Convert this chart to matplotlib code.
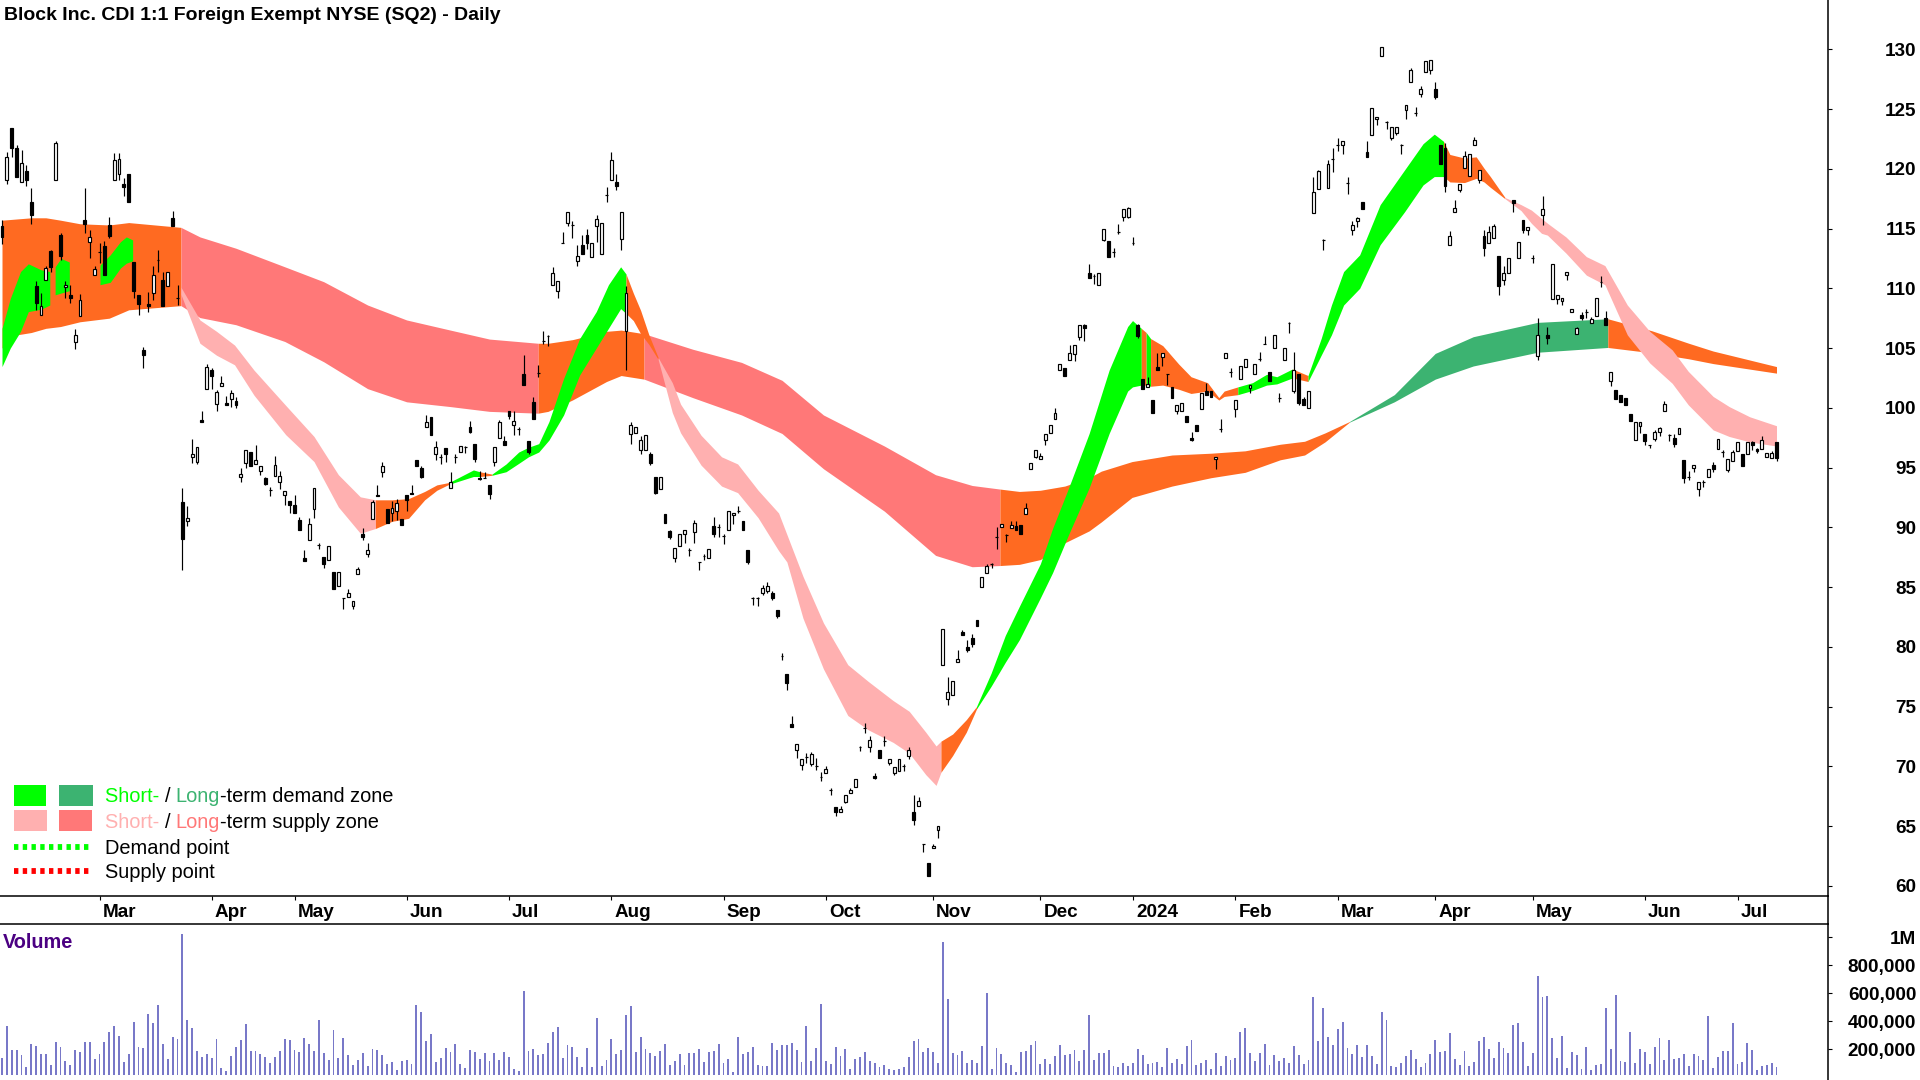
import matplotlib
matplotlib.use("Agg")
import matplotlib.pyplot as plt
from matplotlib.lines import Line2D
from matplotlib.patches import Rectangle
from matplotlib.transforms import ScaledTranslation
import numpy as np

plt.rcParams["font.family"] = ["Liberation Sans", "DejaVu Sans"]

HIGHS = [
    115.7,121.4,123.4,122.0,121.6,120.3,118.4,110.6,109.6,111.9,
    113.2,122.3,114.6,110.6,110.3,106.6,109.5,118.4,114.9,111.9,
    113.8,114,116,121.3,121.3,119.2,119.6,112.2,109.4,105.1,
    109.7,111.9,113.2,111.4,111.4,116.5,110.3,93.3,91.8,97.4,
    96.7,99.7,103.7,103.3,101.5,102.7,101,101.5,100.9,95,
    96.5,96.3,96.9,95.1,94.2,93.4,96,94.7,93,92.2,
    92.7,90.9,88.1,90.8,93.3,88.7,87.5,88.4,86.3,86.3,
    84.1,84.8,83.8,86.7,89.9,88.7,92.3,93.5,95.5,91.5,
    92.2,92.4,90.7,92.7,93.5,95.6,95.1,99.4,99.2,97.2,
    96.1,96.6,94.6,96.1,96.8,96.8,98.9,97,94.7,94.6,
    93.5,96.7,99,97.6,99.7,99.7,98.4,104.4,97.2,100.9,
    103.6,106.4,106.1,111.8,110.6,114.7,116.4,115.6,113.6,114.5,
    115,113.8,116.1,115.5,118.5,121.4,119.6,116.4,110.2,98.8,
    98.4,97.6,97.75,96.3,94.2,94.2,91.1,89.8,88.3,89.4,
    89.8,88.3,90.6,87.1,87.8,88.2,90.9,90.3,89.4,91.4,
    91.2,91.8,90.5,88.1,84.2,84.2,85.2,85.4,84.65,83.1,
    79.5,77.7,74.2,71.9,70.6,71.1,71.2,70.7,69.5,70,
    68.2,66.6,66.7,67.6,68.2,68.9,71.7,73.6,72.5,69.4,
    71.4,72.5,70.6,69.9,70.6,70.2,71.6,67.6,67.4,63.5,
    61.9,63.5,65,81.5,77.5,77.1,79.7,81.4,80.6,81.1,
    82.25,85.8,86.9,87,90,90.3,89.4,90.5,90.5,90.2,
    92,95.4,96.45,96.2,97.8,98.6,100,103.7,103.3,105.25,
    105.25,106.9,107,112.05,111.2,111.25,115,113.96,113.4,115.4,
    116.6,116.8,114.3,107,102.4,102.6,100.65,104.55,104.55,102.85,
    101.75,100.25,100.4,99.3,98,98.6,101.2,102.1,101.4,95.9,
    99.1,104.55,103.3,100.65,103.5,104.1,101.9,103.65,104.65,106,
    103,106.1,101.2,105,107.2,104.7,102.8,100.9,101.4,119.3,
    119.9,114.1,120.7,121.7,122.6,122.3,119.3,115.6,116,117.2,
    122.3,125.1,124.3,130.2,124,123.5,123.5,122.1,125.3,128.4,
    125.2,126.9,129,129.1,127.3,122,122.2,114.8,117.4,118.7,
    121.5,121.2,122.7,119.9,114.9,115.2,115.4,112.7,111.9,112.5,
    117.4,113.9,115.7,115.1,112.8,107.5,117.7,106.8,112,109.4,
    109.2,111.4,108.3,106.8,108,108.3,107.6,109.2,111,108.1,
    103,101.5,101.1,100.85,99.5,98.8,98.8,97.8,96.9,98.15,
    98.4,100.6,97.8,97.8,98.3,95.6,94.7,95.2,93.8,94,
    94.9,95.45,97.4,96.45,95.7,96.45,97.15,96.1,97.15,97.2,
    96.65,97.6,96.2,96.35,97.15,
]
BODY_TOPS = [
    115.2,121,123.4,121.7,120.5,119.8,117.2,110.2,108.5,111.7,
    113.1,122.2,114.5,110.3,109.4,106.1,109,115.7,114.3,111.6,
    113,113.5,115.3,120.7,120.8,118.7,119.6,112.2,109.4,104.8,
    108.7,111.1,112.4,110.7,111.4,115.9,109.2,92.1,90.8,96.1,
    96.7,99,103.4,103.2,101.3,102.1,100.4,101.2,100.6,94.5,
    96.5,96.3,95.6,95.1,94.1,93.1,95.2,94.3,93,92.2,
    91.9,90.6,87.4,90.3,93.3,88.5,87.5,88.4,86.3,86.3,
    84.1,84.5,83.8,86.5,89.4,88.1,92.1,92.7,95.1,91.5,
    91.6,92,90.7,92.7,92.9,95.6,95,98.8,99.2,96.7,
    95.9,96.6,93.8,95.9,96.8,96.7,98.4,97,94.1,94.1,
    93.5,96.7,98.8,97.2,99.7,98.9,98.2,102.8,97.2,100.5,
    102.9,105.6,106,111.3,110.6,113.8,116.4,115.3,112.7,113.6,
    114.5,113.8,115.8,115.5,117.8,120.7,118.9,116.4,109.6,98.6,
    98.4,97.3,97.75,96.1,94.2,94.2,91.1,89.7,88.3,89.4,
    89.8,88.1,90.4,87.1,87.6,88.2,90.1,90,89.3,91.4,
    91.2,91.4,90.5,88.1,84.1,84.1,84.9,85.1,84.5,83.1,
    79.2,77.7,73.5,71.9,70.6,70.8,71,70,69.1,69.8,
    68,66.6,66.4,67.6,68,68.9,71.6,73.2,72.2,69.2,
    71.4,72.1,70.6,69.9,70.6,70,71.4,66.2,67.1,63.5,
    61.9,63.3,65,81.5,76.2,77.1,79,81.2,80,80.7,
    82.25,85.8,86.75,86.9,89.2,90.3,89.35,90.2,90.1,90.2,
    91.6,95.4,96.45,96,97.8,98.6,99.55,103.7,103.3,104.55,
    105.25,106.9,106.9,111.3,111,111.25,114.94,113.96,113,114.7,
    116.6,116.7,113.75,106.95,102.4,102,100.65,103.4,104.55,102.85,
    101.75,100.25,100.4,99.3,97.5,98.6,101.2,101.4,101.4,95.9,
    98.2,104.55,103,100.65,103.5,104.1,101.9,103.65,104.1,105.3,
    103,106.1,100.85,105,107.1,103.2,102.8,100.7,101.4,118.1,
    119.8,114,120.4,120.8,122,122.3,118.8,115.3,115.9,117.2,
    121.4,125.1,124.3,130.2,123.9,123.5,123.5,122,125.3,128.3,
    124.7,126.7,129,129.1,126.7,122,121.7,114.4,116.7,118.7,
    121.1,121.2,122.4,119.9,114.4,114.7,115.2,112.7,111.3,112.5,
    117.4,113.9,115.7,115.1,112.5,106.1,116.6,106.1,112,109.4,
    109.2,111.4,108.3,106.65,107.8,108,107.4,109.2,110.5,107.55,
    103,101.5,101.1,100.85,99.5,98.8,98.8,97.8,96.85,98,
    98.3,100.3,97.7,97.45,98.3,95.6,94.25,95.2,93.8,93.8,
    94.9,95.2,97.4,96.3,95.7,96.3,97.15,96.1,97.15,97.15,
    96.55,97.3,96.2,96.2,97.15,
]
BODY_BOTS = [
    114.3,119.1,121.7,119.3,118.9,119.1,116.1,108.8,107.8,110.7,
    111.8,119.1,112.7,110.1,109.2,105.5,107.7,115.4,113.9,111.1,
    113,111.1,114.4,119.1,119.6,118.5,117.2,109.8,108.7,104.4,
    108.5,109.6,112.4,108.5,110.2,115.2,109.2,89,90.5,95.9,
    95.5,98.8,101.6,102.7,100.3,101.8,100.2,100.7,100.2,94.2,
    95.4,95.1,95.3,94.7,93.6,93.1,94.3,93.8,92.7,91.9,
    91.2,89.8,87.2,88.9,91.5,88.5,86.9,87.3,84.8,85.1,
    84.1,84.2,83.4,86.1,89.2,87.8,90.7,92.6,94.6,90.4,
    91.2,91.4,90.2,92.3,92.8,95.1,94.2,98.4,97.7,96.1,
    95.9,96.1,93.3,95.9,96.3,96.7,98,95.7,94,94.1,
    92.8,95.5,97.5,96.9,99.3,98.6,98.2,101.9,96.3,99.1,
    102.9,105.6,106,110.3,109.8,113.8,115.5,115.3,112.3,112.9,
    113.8,112.6,115.2,112.9,117.8,119.1,118.6,114.1,106.4,97.8,
    97.9,96.5,96.5,95.4,92.9,93.2,90.4,89.2,87.4,88.4,
    89.4,88.1,89.6,87.1,87.6,87.4,89.4,90,89.3,89.8,
    91,91.4,89.8,87.1,84.1,84.1,84.5,84.7,84.1,82.6,
    79.2,77,73.3,71.4,70.1,70.8,70.2,70,69.1,69.4,
    68,66.2,66.2,67,67.8,68.3,71.6,73.2,71.6,69,
    70.7,72.1,70.3,69.4,69.6,70,70.9,65.5,66.7,63.5,
    60.8,63.2,64.7,78.5,75.6,76,78.7,81,79.7,80.2,
    81.75,85,86.2,86.9,89.2,90,89.35,89.9,89.75,89.4,
    91.1,94.9,95.9,95.75,97.3,97.85,99.1,103.2,102.7,104,
    104.5,105.95,106.65,110.9,111,110.25,114,112.64,113,114.7,
    116,116,113.75,106,101.6,101.7,99.55,103.2,104.25,102.85,
    100.85,99.7,99.7,98.85,97.3,98.1,99.9,101.1,100.9,95.7,
    98.2,104.2,103,99.9,102.4,103.4,101.65,102.8,104.1,105.3,
    102.25,105,100.85,104,107.1,101.4,100.4,100.2,100,116.3,
    118.3,114,118.4,120.8,122,122,118.8,114.9,115.6,116.6,
    121,122.8,124.2,129.4,123.9,122.6,123,122,124.9,127.3,
    124.7,126.3,128.1,128.3,126,120.4,118.6,113.6,116.4,118.2,
    120.1,119.4,122,119.1,113.4,113.8,114.2,110.2,110.7,111.3,
    117.1,112.5,114.9,114.9,112.5,104.3,116.1,105.8,109.1,109.1,
    108.9,111.1,108,106.2,107.5,108,107.1,107.7,110.5,106.9,
    102.25,100.75,100.45,100.25,98.9,97.3,98.5,97.2,96.85,97.4,
    98,99.75,97.7,97,97.8,94.1,94.25,95,93.2,93.8,
    94.25,94.9,96.55,96.3,94.8,95.55,96.4,95.1,96.1,96.9,
    96.4,96.55,95.85,95.8,95.8,
]
LOWS = [
    113.7,118.7,121,119.3,118.9,118.6,115.4,108.2,107.8,110.7,
    111.4,119.1,112.4,109.2,108.8,104.9,107.7,114.6,112.5,111.1,
    112.1,111.1,114.2,119.1,119.1,117.7,117.2,109.2,107.8,103.3,
    108,109,111.4,108.5,110.2,115.2,108.6,86.4,90.1,95.4,
    95.3,98.8,101.6,101.6,99.7,101.8,100.2,100.1,100,93.8,
    95,95.1,95.3,94.4,93.5,92.6,94.3,93.2,91.9,91.2,
    91.2,89.8,87.2,88.9,90.8,88.2,86.6,87.3,84.8,85.1,
    83.2,84.2,83.2,86.1,88.9,87.5,90.7,92.6,94.2,90.4,
    90.5,90.6,90.2,91.4,92.8,95.1,94.1,98.4,97.7,95.6,
    95.3,95.5,93.3,95.4,96.3,96.2,97.9,95.5,94,94.1,
    92.4,95.1,97.5,96.9,99.1,97.7,97.7,101.9,96.1,99.1,
    102.6,105.3,105.2,110.3,109.2,113.8,115.2,114.2,111.9,112.9,
    113.3,112.6,113.9,112.9,117.2,119.1,118.2,113.2,103.2,97,
    97.9,96.1,96.5,95.2,92.8,93.2,90.4,89.05,87.1,88.4,
    88.7,87.6,88.7,86.4,87.3,87.4,89.2,89.2,88.6,89.8,
    90.3,91.2,89.8,86.9,83.5,83.4,84.3,84.5,83.95,82.4,
    78.9,76.4,73.3,70.7,69.7,70.3,70,69.7,68.8,69.4,
    67.6,65.8,66.2,66.9,67.8,68.3,71.3,72.8,71.2,68.9,
    70.7,71.7,70.1,69.3,69.6,69.6,70.6,65.05,66.7,62.8,
    60.8,63.2,64,78.5,75.1,76,78.7,81,79.55,80,
    81.75,85,86.2,86.6,88.2,90,88.8,89.9,89.75,89.4,
    91.1,94.9,95.8,95.75,96.9,97.85,99.1,103.2,102.7,104,
    103.9,105.7,105.6,110.9,110.35,110.25,114,112.64,112.65,114.55,
    115.65,115.9,113.6,105.8,101.6,101.7,99.55,103.2,103.5,101.9,
    100.85,99.45,99.7,98.85,97.2,98.1,99.9,101.1,100.9,94.9,
    97.95,104.2,102.6,99.25,102.4,103.4,101.2,102.8,103.9,105.3,
    102.25,105,100.5,104,106.3,101.2,100.2,100.2,100,116.3,
    118.3,113.2,118.4,119.7,121.5,121.2,117.9,114.5,115.1,116.6,
    121,122.8,123.7,129.4,123.3,122.4,122.8,121.2,124.2,127.3,
    124.4,126,128.1,127.9,125.85,120.4,118.1,113.6,116.4,118.1,
    120.1,119.4,122,118.8,112.7,113.8,114.2,109.4,110.3,111.3,
    116.4,112.5,114.6,114.5,112.1,104,115.3,105.3,109.1,108.7,
    108.6,110.7,108,106.2,107.35,107.5,107.1,107.7,110.1,106.9,
    101.85,100.75,100.45,100.25,98.9,97.3,97.85,96.85,96.6,97.2,
    97.6,99.75,97.2,96.75,97.8,93.7,94,94.6,92.65,93.4,
    94.25,94.65,96.55,95.9,94.65,95.55,96.4,95.1,96.1,96.45,
    96.2,96.55,95.85,95.8,95.55,
]
# b = close below open (filled), w = close above open (hollow)
CANDLE_DIR = (
    "bwbbwbbbww" "bwbwbwwbww" "bbbwwbbbbb" "bwbbwbbbww" "wbwbwwbwbw"
    "wbwwbbwwwb" "bbbwwbbwbw" "bwwwbwwbwb" "wwbbbbbwbw" "bbwbwbbbbb"
    "bwwbbwbbbb" "bbbwwbwbwb" "bwwwbwbwww" "wwwbbwbbww" "wbwbbwbbbw"
    "wbbbbbwwbb" "bbbwwbwbbw" "bbwwwwbbwb" "bbwwwbwbwb" "bwwwwwwbbb"
    "bwwbbwbwbb" "wwwwwwwwbw" "wwbbbwwbbb" "wwbbbwbbwb" "bwwbbbwbbw"
    "bwbwwwwwbb" "bwbwbwbbww" "wbwbbwbwwb" "bwwwbwwbww" "bwwwbbbwww"
    "wwwwbwwbww" "bwbwbwwbww" "wwwwbbwwbb" "wbbbbwwbbw" "wwbbwbbwwb"
    "wbwbwwwbwb" "bwwwb"
)
VOLUME_K = [
    135,366,195,195,159,76,238,224,166,166,88,252,216,116,88,195,181,252,252,131,
    166,252,324,366,295,109,166,395,216,209,452,388,516,238,131,288,273,1024,409,352,
    188,145,166,138,273,66,45,152,216,266,381,188,188,166,145,102,145,188,273,266,
    195,181,281,238,188,409,174,124,338,138,281,159,88,124,174,81,202,195,159,95,
    109,52,116,124,95,516,466,259,309,109,138,209,181,238,95,66,195,181,131,174,
    116,174,124,
    181,145,59,45,616,188,202,159,166,245,323,359,138,231,216,145,73,209,73,423,
    81,123,273,166,195,445,509,181,288,202,173,152,188,238,88,116,166,88,173,173,
    202,109,181,188,238,102,131,38,288,166,181,216,88,81,81,245,195,231,231,245,
    195,109,366,116,209,523,116,95,216,152,202,59,131,145,181,116,102,73,88,59,
    52,59,73,145,259,273,181,209,181,102,966,559,173,159,188,102,123,102,223,602,
    59,209,
    166,102,88,38,181,188,231,259,95,131,95,152,231,159,166,195,116,195,445,123,
    173,173,195,81,73,102,81,102,202,159,95,102,109,73,209,102,131,95,223,266,
    88,102,123,59,173,81,152,123,138,323,352,173,116,173,238,88,159,116,138,102,
    223,159,95,123,573,259,495,288,231,345,395,209,166,231,145,231,152,95,466,409,
    81,73,102,152,195,131,73,102,166,266,181,188,316,131,88,188,81,109,259,288,
    202,138,252,209,173,
    373,388,252,80,173,723,573,580,280,138,295,66,180,159,59,216,52,88,95,495,
    202,588,116,109,323,102,202,180,95,216,280,123,266,130,138,166,80,166,152,123,
    438,66,145,188,188,388,95,109,245,195,52,80,88,102,73,
]
VOL_FLOOR_K = 16

LONG_X = [0,3,6,9,12,16,22,26,36.7,40.6,48,58,66,75,83,92,100,110,112,117,124,127,131.7,141.7,151.7,160,168.5,181,191.5,199,204.7,208.7,213,218,223,225.5,231.8,240,248,255,262.2,267.2,271.4,276.4,285.6,294,301.8,315,329.4,338.4,346,351,364]
LONG_UP = [115.7,115.8,115.9,115.9,115.7,115.4,115.3,115.5,115.1,114.3,113.35,111.8,110.55,108.6,107.35,106.5,105.75,105.4,105.4,105.7,106.4,106.5,106.2,104.9,103.8,102.3,99.4,96.8,94.4,93.5,93.2,93,93.1,93.45,94.15,94.7,95.5,96.05,96.2,96.4,96.95,97.2,97.9,98.85,101.1,104.55,105.95,107.15,107.45,106.45,105.4,104.75,103.45]
LONG_LO = [105,106.1,106.3,106.65,106.8,107.2,107.5,108.2,108.55,107.55,106.95,105.55,103.85,101.6,100.5,100.1,99.7,99.55,99.7,100.65,102.2,102.7,102.4,100.85,99.4,97.85,94.9,91.35,87.65,86.7,86.8,86.9,87.3,88.7,89.7,90.45,92.5,93.45,94.15,94.6,95.65,96.05,97.15,98.8,100.5,102.4,103.5,104.65,105.05,104.6,104.1,103.7,102.9]
LONG_ZONES = [(0, 36.7, "mixed"), (36.7, 110, "supply"), (110, 131.7, "mixed"), (131.7, 204.7, "supply"),
              (204.7, 276.4, "mixed"), (276.4, 329.4, "demand"), (329.4, 364, "mixed")]

SHORT_X = [0,1.7,3.8,5.4,8,9.8,10.9,12.1,13.8,20.1,22.2,24.3,25.5,26.8,36.7,40.6,44,47.7,51.7,58.2,64,69,73.5,76.6,80,83.4,86.7,89.2,91.7,96.7,98,100.5,103.4,106,108,110.1,112.2,115.2,118.5,121.9,124.4,126.9,128,129.5,131,132.7,134.6,137.5,139.2,143.4,147.6,150.9,155.1,159.3,161,164.3,168.5,173.5,177.7,182.8,186.1,189.5,191.6,192.6,195,197.8,199.9,202.9,205.8,208.7,213,215.5,218.8,223,227.1,230.9,231.9,233.7,234.7,235.6,238.1,241.4,243.9,247.3,249.6,250.7,253.5,256.5,259.4,261.5,264.7,267.9,270.6,272.7,275.2,278.5,282.7,287.7,291.5,293.8,295.7,297,300,302.4,304,305.3,308.3,311.6,313.7,315.8,317,320.8,325,328.8,333.4,338,342.6,345.9,351,354.3,358.5,364]
SHORT_UP = [106.65,109.15,111.4,112.05,111.55,111.4,111.8,112.5,112.2,111.95,112.8,113.9,114.3,114.05,110.1,107.35,106.4,105.25,103.15,100.2,97.6,94.4,92.55,92.3,92.3,92.4,93,93.55,93.75,94.8,94.65,94.45,95.3,96.3,96.7,97,98.85,102.45,105.8,108.05,110.3,111.8,111.2,109.6,108.15,106.1,104.2,102.1,100.3,97.7,95.9,95.3,93.1,91.2,89.4,85.9,82,78.5,77.1,75.5,74.6,72.85,71.7,72.1,72.7,73.9,75,77.8,80.95,83.4,86.95,89.9,93.3,97.85,103.15,106.8,107.3,106.65,106.3,105.8,105.2,103.65,102.6,102.1,100.85,101.4,101.75,102.1,102.8,102.6,103.25,102.7,105.8,108.6,111.4,112.8,117,119.9,122.1,122.9,122.3,121.2,120.9,121,120.05,119.35,117.6,117,116.55,115.85,115.45,114.3,112.65,111.9,108.6,106.4,104.85,103.05,100.95,100.1,99.25,98.5]
SHORT_LO = [103.45,105,106.4,108.05,108.25,108.6,109.45,109.6,109.8,110.3,110.5,111.7,112.1,112.3,109.5,105.4,104.4,103.6,101.05,97.75,95.5,91.7,89.5,89.9,90.5,90.75,92.3,93.1,93.6,94.25,94.25,94.35,94.65,95.35,95.9,96.3,97.3,99.4,102.75,105,106.65,108.3,107.9,107.3,106.2,105.3,104.05,99.6,97.9,95.2,93.45,92.9,90.8,88.05,87.1,82.4,78.15,74.25,73.05,72,71.1,69.3,68.4,69.5,70.9,72.85,74.8,76.7,78.7,80.6,84.1,86.2,89.4,93.3,97.85,101.4,101.75,101.9,101.9,101.8,101.9,101.55,101.2,101.4,100.65,100.95,101.1,101.45,101.9,102,102.5,102.2,104.4,106.1,108.6,110,113.65,116.4,118.65,119.35,119.35,118.9,118.85,119.2,118.9,118.45,117.5,116.5,115.45,114.6,114.45,112.95,111.1,110.3,106.1,103.75,102.05,100.25,98.15,97.6,97.15,96.8]
SHORT_ZONES = [(0, 9.8, "demand"), (10.9, 13.8, "demand"), (20.1, 26.8, "demand"), (36.7, 76.6, "supply"),
               (76.6, 91.7, "mixed"), (91.7, 98, "demand"), (98, 100.5, "mixed"), (100.5, 128, "demand"),
               (128, 134.6, "mixed"), (134.6, 192.6, "supply"), (192.6, 199.9, "mixed"), (199.9, 233.7, "demand"),
               (233.7, 234.7, "mixed"), (234.7, 235.6, "demand"), (235.6, 253.5, "mixed"), (253.5, 264.7, "demand"),
               (264.7, 267.9, "mixed"), (267.9, 295.7, "demand"), (295.7, 308.3, "mixed"), (308.3, 364, "supply")]

MONTH_POS = [20, 43, 60, 83, 104, 125, 148, 169, 191, 213, 232, 253, 274, 294, 314, 337, 356]
MONTH_LABELS = ["Mar", "Apr", "May", "Jun", "Jul", "Aug", "Sep", "Oct", "Nov", "Dec", "2024",
                "Feb", "Mar", "Apr", "May", "Jun", "Jul"]
PRICE_TICKS = [60, 65, 70, 75, 80, 85, 90, 95, 100, 105, 110, 115, 120, 125, 130]
VOL_TICKS = [200, 400, 600, 800, 1000]
VOL_LABELS = ["200,000", "400,000", "600,000", "800,000", "1M"]

LONG_COLORS = {"mixed": "#FF6A21", "supply": "#FF7878", "demand": "#3CB371"}
SHORT_COLORS = {"mixed": "#FF6A21", "supply": "#FFB0B0", "demand": "#00FF00"}
VOL_COLOR = "#7878C8"
W, H = 1920, 1080


def fig_rect(x0, y0, x1, y1):
    return [x0 / W, 1 - y1 / H, (x1 - x0) / W, (y1 - y0) / H]


def put_zones(ax, xs, ups, los, zones, colors, z):
    xs, ups, los = np.array(xs), np.array(ups), np.array(los)
    for start, end, kind in zones:
        m = (xs >= start) & (xs <= end)
        ax.fill_between(xs[m], los[m], ups[m], color=colors[kind], lw=0, zorder=z)


def legend_line(fig, x, y, parts):
    # coloured words sit one after another, so measure each as it goes down
    rend = fig.canvas.get_renderer()
    for txt, col in parts:
        t = fig.text(x / W, 1 - y / H, txt, color=col, fontsize=14.4, va="center", ha="left")
        x += t.get_window_extent(rend).width


fig = plt.figure(figsize=(W / 100, H / 100), dpi=100, facecolor="white")
ax = fig.add_axes(fig_rect(0, 0, 1828, 896))
vax = fig.add_axes(fig_rect(0, 924, 1828, 1080))

xlim = (-2 / 4.875, 1826 / 4.875)
ax.set_xlim(xlim)
ax.set_ylim(130 - 846.7 / 11.95, 130 + 49.3 / 11.95)
vax.set_xlim(xlim)
vax.set_ylim(-19.3, 1092.9)

put_zones(ax, LONG_X, LONG_UP, LONG_LO, LONG_ZONES, LONG_COLORS, 1)
put_zones(ax, SHORT_X, SHORT_UP, SHORT_LO, SHORT_ZONES, SHORT_COLORS, 2)

idx = np.arange(len(HIGHS))
tops, bots = np.array(BODY_TOPS), np.array(BODY_BOTS)
faces = ["black" if d == "b" else "white" for d in CANDLE_DIR]
ax.vlines(idx, LOWS, HIGHS, color="black", lw=0.85, zorder=3)
ax.bar(idx, tops - bots, bottom=bots, width=0.6, color=faces, edgecolor="black", lw=0.85, zorder=4)

vol = np.array(VOLUME_K)
vax.bar(np.arange(len(vol)), vol - VOL_FLOOR_K, bottom=VOL_FLOOR_K, width=0.4, color=VOL_COLOR, lw=0)

for a in (ax, vax):
    for side in ("left", "top", "bottom", "right"):
        a.spines[side].set_visible(False)
    a.spines["right"].set_visible(True)
    a.spines["right"].set_linewidth(1.1)
    a.yaxis.tick_right()
ax.spines["bottom"].set_visible(True)
ax.spines["bottom"].set_linewidth(1.1)
vax.spines["top"].set_visible(True)
vax.spines["top"].set_linewidth(1.1)
fig.add_artist(Line2D([1828 / W] * 2, [1 - 924 / H, 1 - 896 / H], color="black", lw=1.1))

ax.set_yticks(PRICE_TICKS, [str(v) for v in PRICE_TICKS])
vax.set_yticks(VOL_TICKS, VOL_LABELS)
vax.set_xticks([])
for a in (ax, vax):
    a.tick_params(axis="y", length=3, width=0.8, pad=60.5, labelsize=13.6)
    for lab in a.get_yticklabels():
        lab.set_ha("right")
        lab.set_va("center_baseline")
        lab.set_fontweight("bold")

ax.set_xticks(MONTH_POS, MONTH_LABELS)
ax.tick_params(axis="x", length=3, width=0.8, pad=3, labelsize=13.6)
shift = ScaledTranslation(3 / 100, 0, fig.dpi_scale_trans)
for lab in ax.get_xticklabels():
    lab.set_ha("left")
    lab.set_fontweight("bold")
    lab.set_transform(lab.get_transform() + shift)

fig.text(4 / W, 1 - 15.5 / H, "Block Inc. CDI 1:1 Foreign Exempt NYSE (SQ2) - Daily",
         fontsize=14, fontweight="bold", va="center", ha="left")
fig.text(3 / W, 1 - 943 / H, "Volume", color="#4B0082", fontsize=14.3, fontweight="bold", va="center", ha="left")

# legend
for (x0, y0, x1, y1, col) in [(14, 785, 46, 806, "#00FF00"), (59, 785, 93, 806, "#3CB371"),
                              (14, 810, 47, 831, "#FFB0B0"), (59, 810, 92, 831, "#FF7878")]:
    fig.add_artist(Rectangle((x0 / W, 1 - y1 / H), (x1 - x0) / W, (y1 - y0) / H, color=col, lw=0,
                             transform=fig.transFigure))
for y, col in [(847, "#00FF00"), (871, "#FF0000")]:
    fig.add_artist(Line2D([14 / W, 92 / W], [1 - y / H] * 2, color=col, lw=4.2,
                          ls=(0, (0.75, 0.75)), dash_capstyle="butt"))

legend_line(fig, 105, 797, [("Short- ", "#00FF00"), ("/ ", "black"), ("Long", "#3CB371"), ("-term demand zone", "black")])
legend_line(fig, 105, 822.5, [("Short- ", "#FFB0B0"), ("/ ", "black"), ("Long", "#FF7878"), ("-term supply zone", "black")])
fig.text(105 / W, 1 - 848 / H, "Demand point", fontsize=14.4, va="center", ha="left")
fig.text(105 / W, 1 - 872 / H, "Supply point", fontsize=14.4, va="center", ha="left")

fig.savefig("out.png", dpi=100)
plt.close(fig)
